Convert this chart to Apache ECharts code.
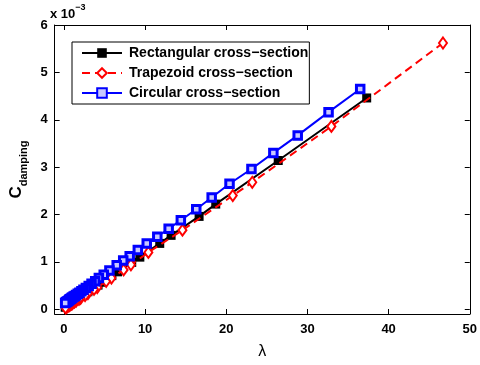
<!DOCTYPE html>
<html><head><meta charset="utf-8">
<script src="https://cdn.jsdelivr.net/npm/echarts@6/dist/echarts.min.js"></script>
<style>html,body{margin:0;padding:0;background:#fff}#c{width:480px;height:365px}</style>
</head><body><div id="c"></div>
<script>
var xTicks = [0, 10, 20, 30, 40, 50];
var yTicks = [0, 1, 2, 3, 4, 5, 6];
var seriesNames = ['Rectangular cross\u2212section', 'Trapezoid cross\u2212section', 'Circular cross\u2212section'];

var rectX = [37.3, 26.4, 18.7, 16.65, 13.2, 11.8, 9.35, 8.35, 6.6, 5.9, 4.7, 4.2, 3.3, 2.95, 2.35, 2.1, 1.65, 1.5, 1.2, 1.05, 0.83, 0.74, 0.59, 0.52, 0.42, 0.37, 0.3, 0.26, 0.2, 0.15];
var rectY = [4.46, 3.14, 2.22, 1.96, 1.56, 1.39, 1.1, 0.99, 0.79, 0.71, 0.57, 0.51, 0.41, 0.37, 0.3, 0.27, 0.22, 0.2, 0.17, 0.15, 0.13, 0.12, 0.1, 0.09, 0.08, 0.07, 0.065, 0.06, 0.05, 0.045];

var trapX = [46.7, 32.95, 23.2, 20.8, 14.6, 10.4, 8.25, 7.35, 5.85, 5.2, 4.1, 3.7, 2.95, 2.6, 2.05, 1.85, 1.5, 1.3, 1.05, 0.92, 0.74, 0.65, 0.52, 0.46, 0.37, 0.33, 0.25, 0.19];
var trapY = [5.62, 3.86, 2.68, 2.4, 1.67, 1.2, 0.94, 0.83, 0.66, 0.59, 0.46, 0.42, 0.33, 0.29, 0.23, 0.21, 0.17, 0.15, 0.12, 0.11, 0.09, 0.08, 0.07, 0.06, 0.05, 0.045, 0.035, 0.03];

var circX = [36.5, 32.6, 28.8, 25.8, 23.1, 20.4, 18.2, 16.3, 14.4, 12.9, 11.5, 10.2, 9.1, 8.1, 7.3, 6.5, 5.6, 4.9, 4.3, 3.85, 3.4, 3.05, 2.7, 2.4, 2.15, 1.9, 1.7, 1.5, 1.35, 1.2, 1.05, 0.95, 0.85, 0.75, 0.65, 0.55, 0.45, 0.35, 0.25, 0.15];
var circY = [4.65, 4.16, 3.67, 3.3, 2.96, 2.65, 2.36, 2.11, 1.88, 1.7, 1.53, 1.39, 1.25, 1.12, 1.03, 0.93, 0.82, 0.73, 0.66, 0.59, 0.54, 0.49, 0.45, 0.41, 0.38, 0.35, 0.33, 0.3, 0.28, 0.27, 0.25, 0.24, 0.22, 0.21, 0.2, 0.18, 0.17, 0.16, 0.15, 0.13];

function pairs(xs, ys) { return xs.map(function (x, i) { return [x, ys[i]]; }); }

var FONT = '"Liberation Sans", Arial, Helvetica, sans-serif';
var chart = echarts.init(document.getElementById('c'), null, {renderer: 'canvas'});

function xAx(pos, labels) {
  return {
    type: 'value', position: pos, min: -1.15, max: 50,
    axisLine: {show: true, onZero: false, lineStyle: {color: '#000', width: 1}},
    axisTick: {show: true, inside: true, length: 5, customValues: xTicks, lineStyle: {color: '#000'}},
    axisLabel: {show: labels, customValues: xTicks, color: '#000', fontWeight: 'bold', fontSize: 13, fontFamily: FONT, margin: 9},
    splitLine: {show: false}
  };
}
function yAx(pos, labels) {
  return {
    type: 'value', position: pos, min: -0.1, max: 6,
    axisLine: {show: true, onZero: false, lineStyle: {color: '#000', width: 1}},
    axisTick: {show: true, inside: true, length: 5, customValues: yTicks, lineStyle: {color: '#000'}},
    axisLabel: {show: labels, customValues: yTicks, color: '#000', fontWeight: 'bold', fontSize: 13, fontFamily: FONT, margin: 7},
    splitLine: {show: false}
  };
}
var xa0 = xAx('bottom', true);
xa0.name = '\u03bb'; xa0.nameLocation = 'middle'; xa0.nameGap = 30;
xa0.nameTextStyle = {color: '#000', fontSize: 16, fontFamily: FONT};
var ya0 = yAx('left', true);
ya0.name = '{c|C}{s|damping}'; ya0.nameLocation = 'middle'; ya0.nameGap = 18; ya0.nameRotate = 90;
ya0.nameTextStyle = {color: '#000', rich: {
  c: {fontSize: 17, fontWeight: 'bold', fontFamily: FONT, color: '#000', lineHeight: 26},
  s: {fontSize: 11, fontWeight: 'bold', fontFamily: FONT, color: '#000', lineHeight: 11, verticalAlign: 'bottom'}
}};

var option = {
  animation: false,
  backgroundColor: '#fff',
  grid: {left: 50, right: 8, top: 25, bottom: 43, containLabel: false},
  xAxis: [xa0, xAx('top', false)],
  yAxis: [ya0, yAx('right', false)],
  legend: {
    orient: 'vertical', left: 72, top: 42,
    padding: [4, 1, 4, 9], itemGap: 6, itemWidth: 40, itemHeight: 12,
    borderColor: '#000', borderWidth: 1, backgroundColor: '#fff',
    textStyle: {color: '#000', fontWeight: 'bold', fontSize: 14, lineHeight: 14, fontFamily: FONT, padding: [0, 0, 0, 2]},
    data: seriesNames
  },
  graphic: [{
    type: 'text', left: 50, top: 3,
    style: {text: '{a|x 10}{b|\u22123}', rich: {
      a: {fontSize: 13, fontWeight: 'bold', fontFamily: FONT, fill: '#000', lineHeight: 22},
      b: {fontSize: 9, fontWeight: 'bold', fontFamily: FONT, fill: '#000', lineHeight: 9, verticalAlign: 'top'}
    }}
  }],
  series: [
    {name: seriesNames[0], type: 'line', data: pairs(rectX, rectY), symbol: 'rect', symbolSize: 9,
     lineStyle: {color: '#000', width: 2}, itemStyle: {color: '#000', borderColor: '#000', borderWidth: 0}, z: 2},
    {name: seriesNames[1], type: 'line', data: pairs(trapX, trapY), symbol: 'diamond', symbolSize: [8, 11],
     lineStyle: {color: '#ff0000', width: 2, type: [8, 5]}, itemStyle: {color: '#fff', borderColor: '#ff0000', borderWidth: 2}, z: 3},
    {name: seriesNames[2], type: 'line', data: pairs(circX, circY), symbol: 'rect', symbolSize: 7.5,
     lineStyle: {color: '#0000ff', width: 2}, itemStyle: {color: '#c8c8ff', borderColor: '#0000ff', borderWidth: 3}, z: 4}
  ]
};
chart.setOption(option);
</script></body></html>
